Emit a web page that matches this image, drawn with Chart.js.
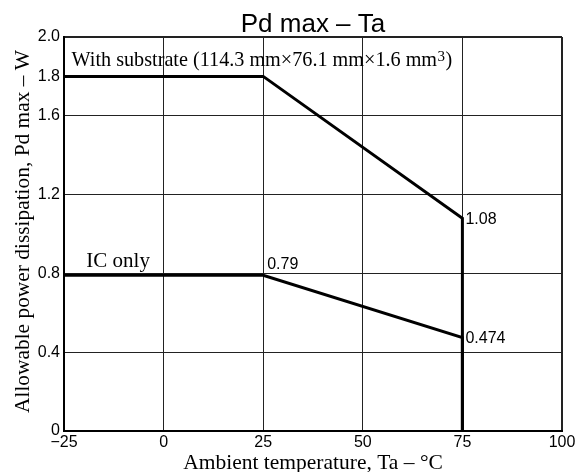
<!DOCTYPE html>
<html>
<head>
<meta charset="utf-8">
<script src="https://cdn.jsdelivr.net/npm/chart.js@4.4.1/dist/chart.umd.min.js"></script>
<style>
  html, body { margin: 0; padding: 0; background: #ffffff; }
  #wrap { width: 579px; height: 472px; }
</style>
</head>
<body>
<div id="wrap"><canvas id="c" width="579" height="472"></canvas></div>
<script>
// ---- Data ----
const temperatures = [-25, 25, 75, 75];          // Ta (°C) break points
const substrateValues = [1.8, 1.8, 1.08, 0];      // With substrate, Pd max (W)
const icOnlyValues = [0.79, 0.79, 0.474, 0];      // IC only, Pd max (W)
const xTickValues = [-25, 0, 25, 50, 75, 100];
const yTickValues = [0, 0.4, 0.8, 1.2, 1.6, 1.8, 2.0];
const yGridHidden = [1.8];                        // tick label but no grid line

const titleText = 'Pd max – Ta';
const xTitleText = 'Ambient temperature, Ta – °C';
const yTitleText = 'Allowable power dissipation, Pd max – W';
const substrateLabel = 'With substrate (114.3 mm×76.1 mm×1.6 mm';
const icOnlyLabel = 'IC only';
const valueLabels = [
  { text: '0.79', x: 25, y: 0.79 },
  { text: '1.08', x: 75, y: 1.08 },
  { text: '0.474', x: 75, y: 0.474 }
];

const sans = '"Liberation Sans", Arial, sans-serif';
const serif = '"Liberation Serif", "Times New Roman", serif';

const toPoints = (xs, ys) => xs.map((x, i) => ({ x: x, y: ys[i] }));

const textPlugin = {
  id: 'texts',
  afterDraw(chart) {
    const ctx = chart.ctx;
    const xs = chart.scales.x, ys = chart.scales.y;
    const area = chart.chartArea;
    ctx.save();
    ctx.fillStyle = '#000';

    // Title
    ctx.font = '26px ' + sans;
    ctx.textAlign = 'center';
    ctx.textBaseline = 'alphabetic';
    ctx.fillText(titleText, (area.left + area.right) / 2, 31.5);

    // X axis title
    ctx.font = '21.5px ' + serif;
    ctx.fillText(xTitleText, (area.left + area.right) / 2, 469);

    // Y axis title
    ctx.save();
    ctx.translate(29, 231.5);
    ctx.rotate(-Math.PI / 2);
    ctx.font = '21.4px ' + serif;
    ctx.textAlign = 'center';
    ctx.fillText(yTitleText, 0, 0);
    ctx.restore();

    // Series labels
    ctx.textAlign = 'left';
    ctx.font = '20.2px ' + serif;
    let sx = xs.getPixelForValue(-23.1), sy = ys.getPixelForValue(1.855);
    ctx.fillText(substrateLabel, sx, sy);
    let w = ctx.measureText(substrateLabel).width;
    ctx.font = '15px ' + serif;
    ctx.fillText('3', sx + w + 0.5, sy - 5);
    let w3 = ctx.measureText('3').width;
    ctx.font = '20.2px ' + serif;
    ctx.fillText(')', sx + w + w3 + 1, sy);

    ctx.font = '21px ' + serif;
    ctx.fillText(icOnlyLabel, xs.getPixelForValue(-19.4), ys.getPixelForValue(0.834));

    // Value labels
    ctx.font = '16px ' + sans;
    valueLabels.forEach((l, i) => {
      const px = xs.getPixelForValue(l.x), py = ys.getPixelForValue(l.y);
      if (i === 0) {
        ctx.textBaseline = 'alphabetic';
        ctx.fillText(l.text, px + 4, py - 6);
      } else {
        ctx.textBaseline = 'middle';
        ctx.fillText(l.text, px + 3, py + 1);
      }
    });
    ctx.restore();
  }
};

new Chart(document.getElementById('c'), {
  type: 'scatter',
  data: {
    datasets: [
      {
        label: 'With substrate',
        data: toPoints(temperatures, substrateValues),
        showLine: true,
        borderColor: '#000',
        borderWidth: 3,
        pointRadius: 0,
        fill: false,
        tension: 0
      },
      {
        label: 'IC only',
        data: toPoints(temperatures, icOnlyValues),
        showLine: true,
        borderColor: '#000',
        borderWidth: 3,
        pointRadius: 0,
        fill: false,
        tension: 0
      }
    ]
  },
  options: {
    responsive: false,
    animation: false,
    devicePixelRatio: 1,
    layout: { padding: { top: 37, right: 17, left: 0, bottom: 0 } },
    plugins: {
      legend: { display: false },
      tooltip: { enabled: false },
      title: { display: false }
    },
    scales: {
      x: {
        type: 'linear',
        min: -25,
        max: 100,
        afterBuildTicks: (s) => { s.ticks = xTickValues.map(v => ({ value: v })); },
        afterFit: (s) => { s.height = 41; },
        ticks: {
          color: '#000',
          font: { family: sans, size: 16 },
          padding: 2,
          maxRotation: 0,
          callback: (v) => (v < 0 ? '\u2212' + Math.abs(v) : String(v))
        },
        grid: {
          drawTicks: false,
          color: '#222',
          lineWidth: (c) => (c.tick && c.tick.value === 100 ? 2 : 1)
        },
        border: { display: true, color: '#000', width: 2 }
      },
      y: {
        type: 'linear',
        min: 0,
        max: 2.0,
        afterBuildTicks: (s) => { s.ticks = yTickValues.map(v => ({ value: v })); },
        afterFit: (s) => { s.width = 64; },
        ticks: {
          color: '#000',
          font: { family: sans, size: 16 },
          padding: 4,
          callback: (v) => (v === 0 ? '0' : Number(v).toFixed(1))
        },
        grid: {
          drawTicks: false,
          color: (c) => (c.tick && yGridHidden.includes(c.tick.value) ? 'rgba(0,0,0,0)' : '#222'),
          lineWidth: (c) => (c.tick && c.tick.value === 2.0 ? 2 : 1)
        },
        border: { display: true, color: '#000', width: 2 }
      }
    }
  },
  plugins: [textPlugin]
});
</script>
</body>
</html>
